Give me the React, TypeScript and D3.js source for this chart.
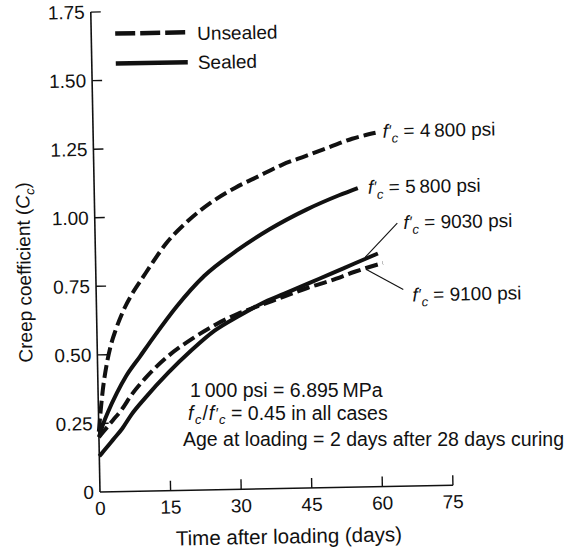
import * as d3 from "d3";

const W = 574;
const H = 554;
// plot frame (before the small scan tilt is applied)
const ORIGIN = { x: 100, y: 492 };
const X_LEN = 353;
const Y_LEN = 480;
const TILT = -1.1;
const FONT = "'Liberation Sans', Arial, Helvetica, sans-serif";
const FS = 19;

const xTicks = [0, 15, 30, 45, 60, 75];
const yTicks = [0, 0.25, 0.5, 0.75, 1, 1.25, 1.5, 1.75];
const yTickLabels = ["0", "0.25", "0.50", "0.75", "1.00", "1.25", "1.50", "1.75"];

// f'c = 4800 psi, unsealed
const days4800 = [0, 0.5, 1, 2, 3, 4, 6, 8, 10, 12, 15, 20, 25, 30, 35, 40, 45, 50, 55, 60];
const cc4800 = [0.22, 0.3, 0.37, 0.47, 0.54, 0.59, 0.67, 0.73, 0.78, 0.83, 0.9, 0.985, 1.05, 1.1, 1.14, 1.18, 1.21, 1.24, 1.27, 1.29];
// f'c = 5800 psi, sealed
const days5800 = [0, 1, 2, 4, 6, 9, 12, 17, 23, 30, 37, 45, 52, 56];
const cc5800 = [0.2, 0.25, 0.29, 0.36, 0.42, 0.49, 0.56, 0.67, 0.78, 0.87, 0.945, 1.015, 1.065, 1.09];
// f'c = 9100 psi, unsealed
const days9100 = [0, 1, 2, 3, 5, 7, 10, 15, 20, 25, 30, 35, 40, 45, 50, 55, 61];
const cc9100 = [0.2, 0.22, 0.24, 0.26, 0.3, 0.35, 0.41, 0.49, 0.55, 0.6, 0.64, 0.67, 0.7, 0.73, 0.755, 0.785, 0.815];
// f'c = 9030 psi, sealed
const days9030 = [0, 1, 2, 3, 5, 7, 10, 15, 20, 25, 30, 35, 40, 45, 50, 55, 60];
const cc9030 = [0.13, 0.15, 0.17, 0.19, 0.23, 0.28, 0.34, 0.43, 0.51, 0.58, 0.63, 0.675, 0.71, 0.745, 0.78, 0.815, 0.85];

const series = [
  { label: "4\u2009800", days: days4800, cc: cc4800, sealed: false },
  { label: "5\u2009800", days: days5800, cc: cc5800, sealed: true },
  { label: "9100", days: days9100, cc: cc9100, sealed: false },
  { label: "9030", days: days9030, cc: cc9030, sealed: true },
];

const legendItems = [
  { name: "Unsealed", sealed: false },
  { name: "Sealed", sealed: true },
];

const CURVE_DASH = "13 5";
const LEGEND_DASH = "20 5";
const INK = "#111";

// f'c = ... psi label with italic f, prime and subscript c
const FcLabel = ({ x, y, value }: { x: number; y: number; value: string }) => (
  <text x={x} y={y} fontSize={FS} fill={INK}>
    <tspan fontStyle="italic">f</tspan>
    <tspan dx={1} dy={-2} fontSize={15}>′</tspan>
    <tspan dy={7} fontSize={13} fontStyle="italic">c</tspan>
    <tspan dy={-5}>{` = ${value} psi`}</tspan>
  </text>
);

export default function App() {
  const x = d3.scaleLinear().domain([0, 75]).range([ORIGIN.x, ORIGIN.x + X_LEN]);
  const y = d3.scaleLinear().domain([0, 1.75]).range([ORIGIN.y, ORIGIN.y - Y_LEN]);
  const line = d3
    .line<[number, number]>()
    .x((d) => x(d[0]))
    .y((d) => y(d[1]))
    .curve(d3.curveMonotoneX);

  const ends = series.map((s) => ({
    x: x(s.days[s.days.length - 1]),
    y: y(s.cc[s.cc.length - 1]),
  }));

  return (
    <svg
      width={W}
      height={H}
      style={{ position: "absolute", left: 0, top: 0, background: "#fff" }}
      fontFamily={FONT}
    >
      <g transform={`rotate(${TILT}, ${ORIGIN.x}, ${ORIGIN.y})`}>
        {/* axes */}
        <line x1={x(0)} x2={x(75)} y1={y(0)} y2={y(0)} stroke={INK} strokeWidth={1.6} />
        <line x1={x(0)} x2={x(0)} y1={y(0)} y2={y(1.75)} stroke={INK} strokeWidth={1.6} />
        {yTicks.map((t, i) => (
          <g key={`y${i}`}>
            {t > 0 && <line x1={x(0)} x2={x(0) + 10} y1={y(t)} y2={y(t)} stroke={INK} strokeWidth={1.4} />}
            <text x={x(0) - 6} y={y(t)} dy="0.35em" textAnchor="end" fontSize={FS} fill={INK}>
              {yTickLabels[i]}
            </text>
          </g>
        ))}
        {xTicks.map((t) => (
          <g key={`x${t}`}>
            {t > 0 && <line x1={x(t)} x2={x(t)} y1={y(0)} y2={y(0) - 10} stroke={INK} strokeWidth={1.4} />}
            <text x={x(t)} y={y(0) + 23} textAnchor="middle" fontSize={FS} fill={INK}>
              {t}
            </text>
          </g>
        ))}

        {/* axis titles */}
        <text x={288} y={547} textAnchor="middle" fontSize={20.5} fill={INK}>
          Time after loading (days)
        </text>
        <text transform="translate(35, 271) rotate(-90)" textAnchor="middle" fontSize={FS} fill={INK}>
          Creep coefficient (<tspan fontStyle="italic">C</tspan>
          <tspan dy={5} fontSize={13} fontStyle="italic">c</tspan>
          <tspan dy={-5}>)</tspan>
        </text>

        {/* curves */}
        {series.map((s, i) => (
          <path
            key={i}
            d={line(s.days.map((d, j) => [d, s.cc[j]] as [number, number])) || ""}
            fill="none"
            stroke={INK}
            strokeWidth={4}
            strokeDasharray={s.sealed ? undefined : CURVE_DASH}
          />
        ))}

        {/* curve labels */}
        <FcLabel x={ends[0].x + 7} y={ends[0].y + 5} value={series[0].label} />
        <FcLabel x={ends[1].x + 10} y={ends[1].y + 6} value={series[1].label} />
        <FcLabel x={ends[3].x + 26} y={ends[3].y - 24} value={series[3].label} />
        <FcLabel x={ends[2].x + 29} y={ends[2].y + 39} value={series[2].label} />
        <line x1={x(57.3)} y1={y(0.83) - 2} x2={ends[3].x + 20} y2={ends[3].y - 30} stroke={INK} strokeWidth={1.1} />
        <line x1={x(57.5)} y1={y(0.8) + 2} x2={ends[2].x + 20} y2={ends[2].y + 27} stroke={INK} strokeWidth={1.1} />

        {/* legend */}
        {legendItems.map((it, i) => (
          <g key={it.name}>
            <line
              x1={124}
              x2={196}
              y1={34 + i * 30}
              y2={34 + i * 30}
              stroke={INK}
              strokeWidth={4.5}
              strokeDasharray={it.sealed ? undefined : LEGEND_DASH}
            />
            <text x={206} y={42 + i * 29} fontSize={FS} fill={INK}>
              {it.name}
            </text>
          </g>
        ))}
      </g>

      {/* notes (placed in page coordinates) */}
      <text x={190} y={397} fontSize={19.5} fill={INK}>
        1{"\u2009"}000 psi = 6.895{"\u2009"}MPa
      </text>
      <text x={188} y={420} fontSize={19.5} fill={INK}>
        <tspan fontStyle="italic">f</tspan>
        <tspan dx={1.5} dy={4} fontSize={13} fontStyle="italic">c</tspan>
        <tspan dx={1} dy={-4}>/</tspan>
        <tspan dx={1} fontStyle="italic">f</tspan>
        <tspan dx={1.5} dy={-2} fontSize={15}>′</tspan>
        <tspan dx={0.5} dy={6} fontSize={13} fontStyle="italic">c</tspan>
        <tspan dy={-4}> = 0.45 in all cases</tspan>
      </text>
      <text x={183} y={445.5} fontSize={19.5} fill={INK}>
        Age at loading = 2 days after 28 days curing
      </text>
    </svg>
  );
}
